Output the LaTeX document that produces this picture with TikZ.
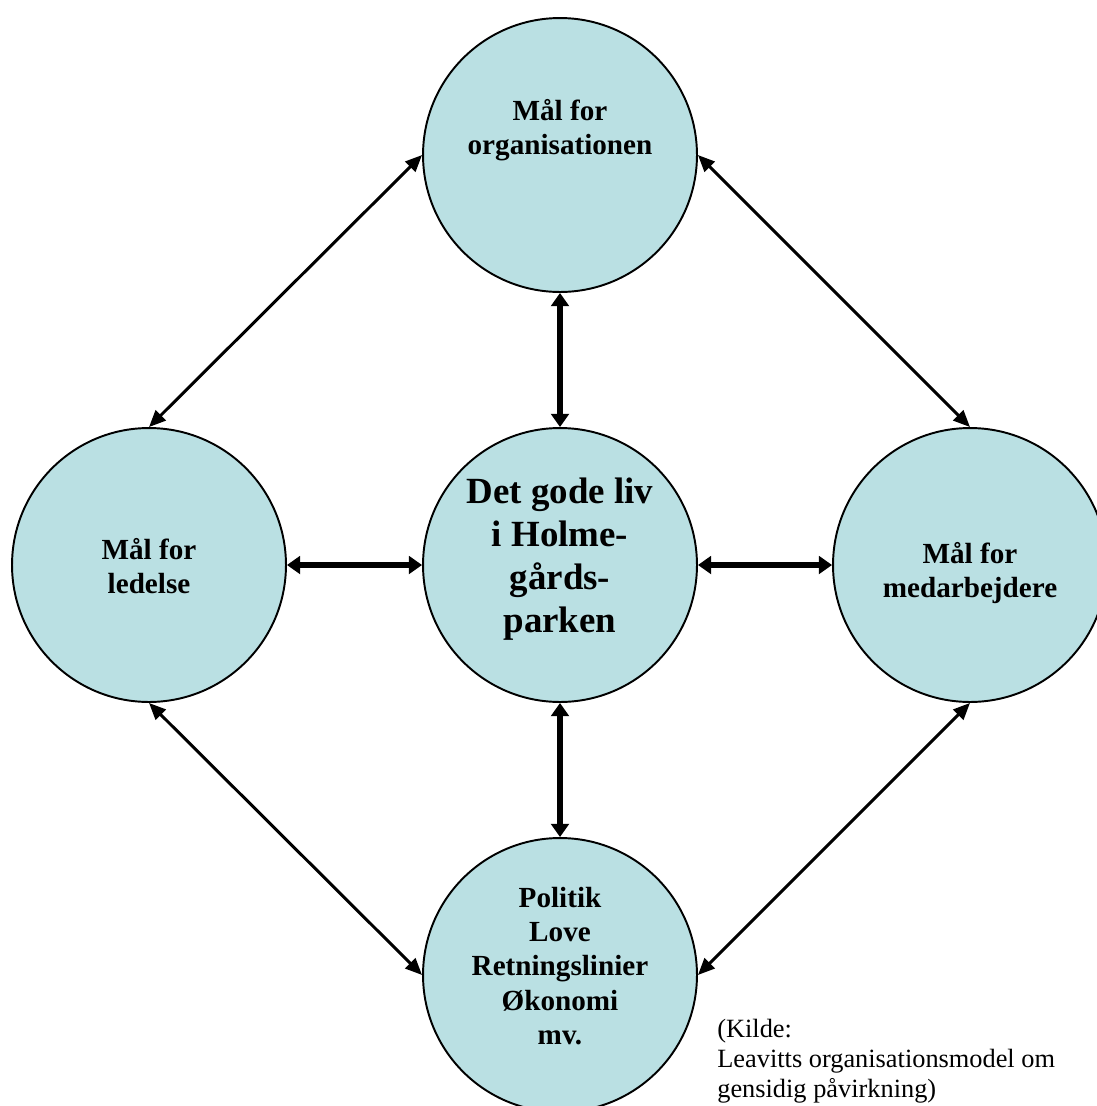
\documentclass[tikz,border=0pt]{standalone}
\usepackage{fontspec}
\setmainfont{Liberation Serif}
\usetikzlibrary{arrows.meta,positioning}
\definecolor{cirkelblaa}{RGB}{186,224,227}

\begin{document}
\begin{tikzpicture}[x=0.02cm,y=-0.02cm,
    cirkel/.style={circle,draw,line width=1.1pt,fill=cirkelblaa,minimum size=5.48cm,inner sep=0pt},
    tekst/.style={align=center,inner sep=0pt,font=\fontsize{16.6}{19.5}\selectfont\bfseries},
    skraa/.style={{Triangle[length=9.5pt,width=8pt]}-{Triangle[length=9.5pt,width=8pt]},line width=1.7pt},
    lige/.style={{Triangle[length=7.5pt,width=10pt]}-{Triangle[length=7.5pt,width=10pt]},line width=3.5pt}]
    \useasboundingbox (0,0) rectangle (1097,1106);
    % Cirklerne
    \node[cirkel] (org) at (560,155) {};
    \node[cirkel] (ledelse) at (149,565) {};
    \node[cirkel] (liv) at (560,565) {};
    \node[cirkel] (medarb) at (970,565) {};
    \node[cirkel] (politik) at (560,975) {};
    % Tekster
    \node[tekst] (orgtekst) at (560,130) {Mål for\\organisationen};
    \node[tekst] (ledelsetekst) at (149,566) {Mål for\\ledelse};
    \node[tekst, font=\fontsize{21}{24.5}\selectfont\bfseries] (livtekst) at (560,559) {Det gode liv\\i Holme-\\gårds-\\parken};
    \node[tekst] (medarbtekst) at (970,573) {Mål for\\medarbejdere};
    \node[tekst] (politiktekst) at (560,966) {Politik\\Love\\Retningslinier\\Økonomi\\mv.};
    \node[anchor=north west, align=left, inner sep=0pt, font=\fontsize{15}{17}\selectfont] (kilde) at (717,1019)
        {(Kilde:\\Leavitts organisationsmodel om\\gensidig påvirkning)};
    % Skrå pile
    \draw[skraa] (org.west) -- (ledelse.north);
    \draw[skraa] (org.east) -- (medarb.north);
    \draw[skraa] (ledelse.south) -- (politik.west);
    \draw[skraa] (medarb.south) -- (politik.east);
    % Lige pile
    \draw[lige] (org.south) -- (liv.north);
    \draw[lige] (ledelse.east) -- (liv.west);
    \draw[lige] (liv.east) -- (medarb.west);
    \draw[lige] (liv.south) -- (politik.north);
\end{tikzpicture}
\end{document}
